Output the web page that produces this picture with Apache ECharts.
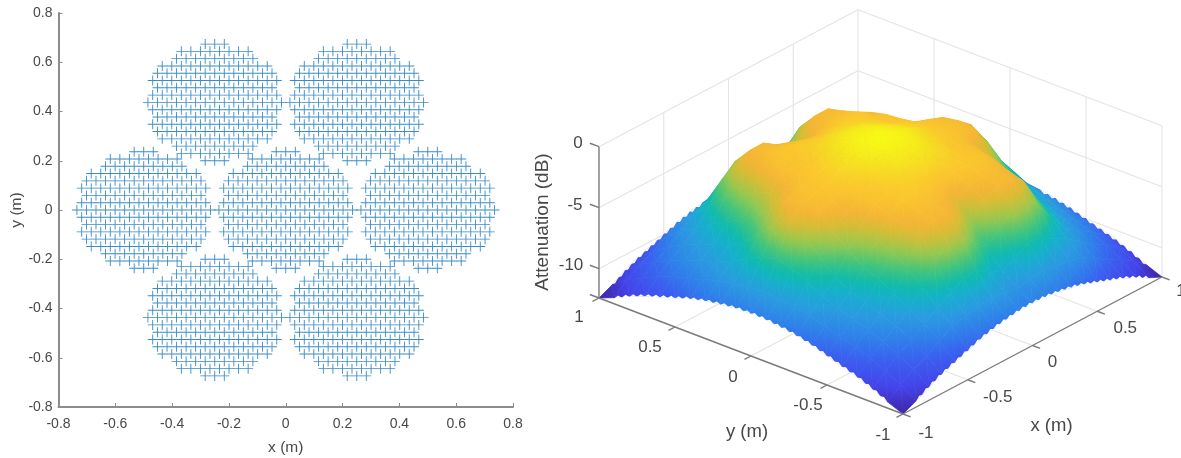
<!DOCTYPE html>
<html><head><meta charset="utf-8">
<style>html,body{margin:0;padding:0;background:#fff}#c{width:1181px;height:458px;filter:blur(0.4px)}</style>
<script src="https://cdn.jsdelivr.net/npm/echarts@6/dist/echarts.min.js"></script></head>
<body><div id="c"></div>
<script>
// ---- left panel: element layout ----
const clusterCentresX = [0, -0.5, 0.5, -0.25, 0.25, -0.25, 0.25];
const clusterCentresY = [0, 0, 0, 0.437, 0.437, -0.437, -0.437];
const rowOffsets = [-8,-7,-6,-5,-4,-3,-2,-1,0,1,2,3,4,5,6,7,8];
const rowHalfWidths = [1,3.5,4,5.5,6,6.5,6,6.5,7,6.5,6,6.5,6,5.5,4,3.5,1];
const elementPitchX = 0.0336, elementPitchY = 0.0296;

// ---- right panel: attenuation (dB), rows x = 0..1, columns y = 0..1, step 0.1 (mirrored quadrants) ----
const attX00 = [0,-0.2,-0.5,-1,-1.8,-3,-4.2,-5.8,-7.2,-8.2,-8.9];
const attX01 = [-0.2,-0.3,-0.6,-1.1,-1.6,-2.3,-3,-4.8,-6.8,-8,-8.95];
const attX02 = [-0.5,-0.7,-1,-1.3,-1.5,-2,-2.3,-3.7,-6,-7.8,-9.1];
const attX03 = [-1,-1.2,-1.5,-1.6,-1.6,-2,-2.3,-3.7,-6.2,-8,-9.3];
const attX04 = [-1.5,-1.6,-1.8,-1.9,-2.2,-2.7,-3.1,-4.6,-6.8,-8.2,-9.6];
const attX05 = [-1.8,-1.9,-2.6,-3.2,-3.8,-4.3,-5.1,-6.2,-7.4,-8.5,-10];
const attX06 = [-2.1,-2.3,-3.4,-4.6,-5.4,-6,-6.7,-7.5,-8.2,-9.1,-10.4];
const attX07 = [-3,-3.8,-5,-6.2,-6.9,-7.3,-7.8,-8.3,-9,-9.8,-10.8];
const attX08 = [-5.6,-5.9,-6.5,-7.2,-7.7,-8.1,-8.5,-9,-9.6,-10.3,-11.3];
const attX09 = [-7.7,-7.8,-8,-8.2,-8.6,-9,-9.3,-9.8,-10.4,-11,-11.9];
const attX10 = [-8.9,-8.95,-9.1,-9.3,-9.6,-10,-10.4,-10.8,-11.3,-11.9,-12.4];
const attQuadrant = [attX00,attX01,attX02,attX03,attX04,attX05,attX06,attX07,attX08,attX09,attX10];
const tick3d = [-1,-0.5,0,0.5,1];
const tick3dLabels = ['-1','-0.5','0','0.5','1'];
const zTicks = [0,-5,-10];
const zFloor = -12.4, zTop = 0;
const parulaStops = [[0,'#3e26a8'],[0.1,'#4444ea'],[0.2,'#3a60f0'],[0.28,'#2f80ea'],[0.36,'#2a9ae0'],[0.44,'#16b0cc'],[0.5,'#10bbab'],[0.58,'#45c57a'],[0.66,'#95c850'],[0.74,'#d5bd35'],[0.8,'#f5b535'],[0.88,'#fbc82c'],[0.94,'#f6e020'],[1,'#f9fb14']];

// build
const planePoints = [];
clusterCentresX.forEach((cx,c)=>{
  rowOffsets.forEach((r,k)=>{
    const h = rowHalfWidths[k];
    for(let q=-h;q<=h+1e-9;q+=1) planePoints.push([cx+q*elementPitchX, clusterCentresY[c]+r*elementPitchY]);
  });
});
const N = 10;
const gridVal = i => (i-N)/N;
function att(i,j){ return attQuadrant[Math.abs(i-N)][Math.abs(j-N)]; }

// view projection of the 3D box into the hidden flat axes
const proj = (x,y,z)=>[129.5*x-152*y, 68.5*x+58*y+12.2*(z-zFloor)];

function hexRgb(h){return [1,3,5].map(i=>parseInt(h.substr(i,2),16));}
function parula(t){
  t=Math.max(0,Math.min(1,t));
  for(let i=1;i<parulaStops.length;i++){
    if(t<=parulaStops[i][0]){
      const a=parulaStops[i-1],b=parulaStops[i],f=(t-a[0])/(b[0]-a[0]);
      const A=hexRgb(a[1]),B=hexRgb(b[1]);
      return 'rgb('+A.map((v,k)=>Math.round(v+(B[k]-v)*f)).join(',')+')';
    }
  }
  return parulaStops[parulaStops.length-1][1];
}
const tOf = z => (z-zFloor)/(zTop-zFloor);

// triangles, back to front
const tris=[];
for(let i=2*N-1;i>=0;i--) for(let j=2*N-1;j>=0;j--){
  tris.push([i,j,i+1,j,i+1,j+1]);
  tris.push([i,j,i,j+1,i+1,j+1]);
}
function triItem(params,api){
  const pts=[0,2,4].map(k=>{
    const i=api.value(k),j=api.value(k+1),z=att(i,j);
    const p=proj(gridVal(i),gridVal(j),z);
    const c=api.coord(p);
    return {x:c[0],y:c[1],z};
  }).sort((a,b)=>a.z-b.z);
  const [A,B,C]=pts;
  let fill;
  if(C.z-A.z<1e-6){ fill=parula(tOf(A.z)); }
  else{
    const f=(B.z-A.z)/(C.z-A.z);
    const Dx=A.x+(C.x-A.x)*f, Dy=A.y+(C.y-A.y)*f;
    let nx=-(B.y-Dy), ny=B.x-Dx;
    const len=Math.hypot(nx,ny);
    if(len<1e-6){nx=C.x-A.x;ny=C.y-A.y;const l=Math.hypot(nx,ny)||1;nx/=l;ny/=l;}
    else{nx/=len;ny/=len;}
    const d=(C.x-A.x)*nx+(C.y-A.y)*ny;
    const stops=[];
    for(let s=0;s<=6;s++){const zz=A.z+(C.z-A.z)*s/6;stops.push({offset:s/6,color:parula(tOf(zz))});}
    fill=new echarts.graphic.LinearGradient(A.x,A.y,A.x+nx*d,A.y+ny*d,stops,true);
  }
  return {type:'polygon',shape:{points:pts.map(p=>[p.x,p.y])},style:{fill,stroke:fill,lineWidth:0.7},silent:true};
}

// serrated mesh border: each border cell [i0,j0,i1,j1,side] is notched twice
const notches=[];
for(let k=1;k<2*N-1;k++){
  notches.push([0,k,0,k+1,-1]);           // x=-1 edge, lower
  notches.push([k,0,k+1,0,-1]);           // y=-1 edge, lower
  if(k<8) notches.push([k,2*N,k+1,2*N,1]);   // y=1 edge, upper left
  if(k<8) notches.push([2*N,k,2*N,k+1,1]); // x=1 edge, upper right
}
function notchItem(params,api){
  const v=[0,1,2,3,4].map(k=>api.value(k));
  const P=(i,j)=>{const c=api.coord(proj(gridVal(i),gridVal(j),att(i,j)));return c;};
  const a=P(v[0],v[1]),b=P(v[2],v[3]);
  const up=v[4];
  const children=[];
  [[0,0.5],[0.5,1]].forEach(r=>{
    const p=[a[0]+(b[0]-a[0])*r[0],a[1]+(b[1]-a[1])*r[0]];
    const q=[a[0]+(b[0]-a[0])*r[1],a[1]+(b[1]-a[1])*r[1]];
    const m=[(p[0]+q[0])/2,(p[1]+q[1])/2+(up<0?-1.8:1.8)];
    const off=up<0?0.7:-0.7;
    children.push({type:'polygon',shape:{points:[[p[0],p[1]+off],[q[0],q[1]+off],m]},style:{fill:'#fff'},silent:true});
  });
  return {type:'group',children};
}

// box lines: [x1,y1,z1,x2,y2,z2,kind]
const boxLines=[];
const GRID=0,AXIS=1;
zTicks.forEach(z=>{boxLines.push([-1,1,z,1,1,z,GRID]);boxLines.push([1,1,z,1,-1,z,GRID]);});
tick3d.slice(1,4).forEach(t=>{
  boxLines.push([t,1,zFloor,t,1,zTop,GRID]);
  boxLines.push([1,t,zFloor,1,t,zTop,GRID]);
  boxLines.push([t,-1,zFloor,t,1,zFloor,GRID]);
  boxLines.push([-1,t,zFloor,1,t,zFloor,GRID]);
});
boxLines.push([1,1,zFloor,1,1,zTop,GRID],[1,-1,zFloor,1,-1,zTop,GRID],[-1,1,zFloor,1,1,zFloor,GRID],[1,1,zFloor,1,-1,zFloor,GRID]);
const axisLines=[];
axisLines.push([-1,-1,zFloor,1,-1,zFloor,AXIS],[-1,-1,zFloor,-1,1,zFloor,AXIS],[-1,1,zFloor,-1,1,zTop,AXIS]);
tick3d.forEach(t=>{
  axisLines.push([t,-1.05,zFloor,t,-1,zFloor,AXIS]);
  axisLines.push([-1.05,t,zFloor,-1,t,zFloor,AXIS]);
});
zTicks.concat([zFloor]).forEach(z=>axisLines.push([-1,1,z,-1,1.06,z,AXIS]));
function lineItem(params,api){
  const a=api.coord(proj(api.value(0),api.value(1),api.value(2)));
  const b=api.coord(proj(api.value(3),api.value(4),api.value(5)));
  const isAxis=api.value(6)===AXIS;
  return {type:'line',shape:{x1:a[0],y1:a[1],x2:b[0],y2:b[1]},style:{stroke:isAxis?'#7a7a7a':'#e4e4e4',lineWidth:isAxis?1.4:1.1},silent:true};
}
// text on the 3D box: [label, x, y, z, dxPx, dyPx, fontPx, rotate]
const yTickOffsets=[[-20,21],[-19,20],[-18,21],[-25,20],[-20,19]];
const xTickOffsets=[[23,19],[30,18],[20,17],[28,17],[19,14]];
const zTickOffsets=[[-21,-3],[-24,-2],[-28,-3]];
const zTickText=['0','-5','-10'];
const labels3d=[];
tick3d.forEach((t,i)=>{
  labels3d.push([tick3dLabels[i],-1,t,zFloor,yTickOffsets[i][0],yTickOffsets[i][1],17,0]);
  labels3d.push([tick3dLabels[i],t,-1,zFloor,xTickOffsets[i][0],xTickOffsets[i][1],17,0]);
});
zTicks.forEach((z,i)=>labels3d.push([zTickText[i],-1,1,z,zTickOffsets[i][0],zTickOffsets[i][1],17,0]));
labels3d.push(['y (m)',-1,0,zFloor,-4,76,18.5,0]);
labels3d.push(['x (m)',0,-1,zFloor,19,80,18.5,0]);
labels3d.push(['Attenuation (dB)',-1,1,zFloor,-56,-76,19,90]);
function textItem(params,api){
  const d=labels3d[params.dataIndex];
  const c=api.coord(proj(d[1],d[2],d[3]));
  return {type:'text',x:c[0]+d[4],y:c[1]+d[5],rotation:d[7]*Math.PI/180,
    style:{text:d[0],fill:'#484848',font:d[6]+'px "Liberation Sans", Arial, sans-serif',align:'center',verticalAlign:'middle'},silent:true};
}

const plus='path://M4.55 0h0.9v4.55h4.55v0.9h-4.55v4.55h-0.9v-4.55h-4.55v-0.9h4.55z';
const axCommon={type:'value',min:-0.8,max:0.8,interval:0.2,splitLine:{show:false},
  axisLine:{onZero:false,lineStyle:{color:'#8c8c8c',width:2}},
  axisTick:{inside:true,length:4,lineStyle:{color:'#8c8c8c',width:1}},
  axisLabel:{color:'#484848',fontFamily:'Liberation Sans',fontSize:14,margin:6,formatter:v=>String(+v.toFixed(1)),showMinLabel:true,showMaxLabel:true},
  nameTextStyle:{color:'#484848',fontFamily:'Liberation Sans',fontSize:15.5}};
const xAx=Object.assign({},axCommon,{gridIndex:0,name:'x (m)',nameLocation:'middle',nameGap:33});
xAx.axisLabel=Object.assign({},axCommon.axisLabel,{margin:10});
const chart=echarts.init(document.getElementById('c'),null,{renderer:'canvas'});
chart.setOption({
  animation:false,backgroundColor:'#fff',
  grid:[{left:58.5,right:668,top:13,height:394,outerBoundsMode:'none'},{left:520.5,width:660,top:0,height:458,show:false,outerBoundsMode:'none'}],
  xAxis:[xAx,{type:'value',gridIndex:1,min:-360,max:300,show:false}],
  yAxis:[Object.assign({},axCommon,{gridIndex:0,name:'y (m)',nameLocation:'middle',nameGap:33}),
         {type:'value',gridIndex:1,min:-170.5,max:287.5,show:false}],
  series:[
    {type:'scatter',xAxisIndex:0,yAxisIndex:0,data:planePoints,symbol:plus,symbolSize:10,itemStyle:{color:'#2f86c4',opacity:0.95},silent:true},
    {type:'custom',xAxisIndex:1,yAxisIndex:1,data:boxLines,renderItem:lineItem,clip:false,silent:true,z:2},
    {type:'custom',xAxisIndex:1,yAxisIndex:1,data:tris,renderItem:triItem,clip:false,silent:true,z:3},
    {type:'custom',xAxisIndex:1,yAxisIndex:1,data:notches,renderItem:notchItem,clip:false,silent:true,z:4},
    {type:'custom',xAxisIndex:1,yAxisIndex:1,data:axisLines,renderItem:lineItem,clip:false,silent:true,z:5},
    {type:'custom',xAxisIndex:1,yAxisIndex:1,data:labels3d.map((d,i)=>[i,0]),renderItem:textItem,clip:false,silent:true,z:6}
  ]
});
</script></body></html>
